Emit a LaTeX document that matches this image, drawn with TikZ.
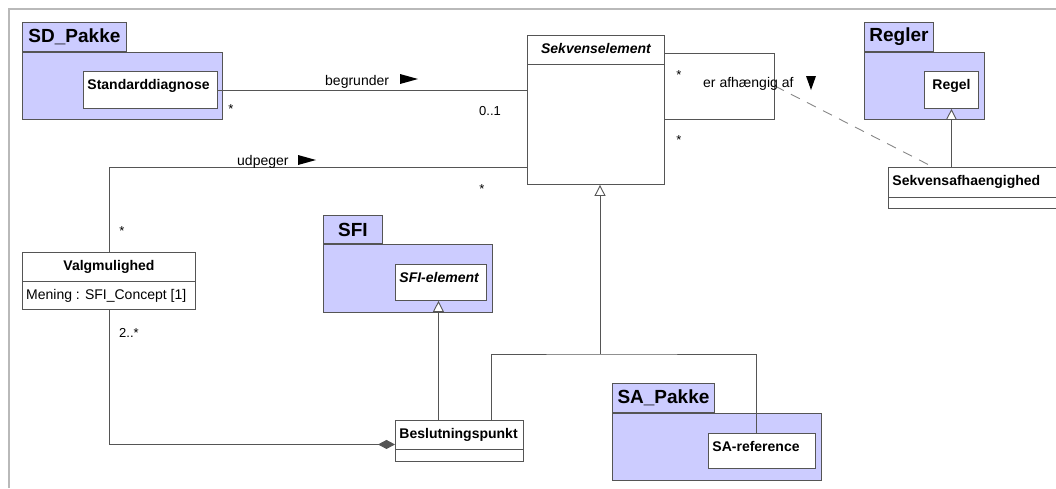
\documentclass[tikz,border=0pt]{standalone}
\usepackage{fontspec}
\setmainfont{Liberation Sans}
\usetikzlibrary{arrows.meta,calc}
\definecolor{linegray}{RGB}{85,85,85}
\definecolor{pkgblue}{RGB}{204,204,255}
\definecolor{framegray}{RGB}{185,185,185}
\definecolor{dashgray}{RGB}{135,135,135}
\tikzset{
  klasse/.style={draw=linegray, fill=white, line width=0.9pt, anchor=north west,
    inner xsep=4pt, inner ysep=0pt, text height=18pt, align=left,
    font=\fontsize{14}{16}\selectfont\bfseries},
  pakke/.style={draw=linegray, fill=pkgblue, line width=0.9pt, anchor=north west, inner sep=0pt},
  faneblad/.style={pakke, anchor=south west, font=\fontsize{19}{21}\selectfont\bfseries},
  mult/.style={anchor=base, inner sep=0pt, font=\fontsize{13}{15}\selectfont},
  rolle/.style={anchor=base west, inner sep=0pt, font=\fontsize{14}{16}\selectfont},
  assoc/.style={draw=linegray, line width=0.9pt},
  gen/.style={assoc, -{Triangle[open, length=11pt, width=11pt, fill=white]}},
  komp/.style={assoc, -{Diamond[length=17pt, width=9pt, fill=linegray]}},
}
\begin{document}
\begin{tikzpicture}[x=1pt,y=-1pt]
\useasboundingbox (0,0) rectangle (1056,488);
\draw[framegray, line width=2pt] (9,488) -- (9,9) -- (1056,9);

% pakker
\node[pakke, minimum width=200pt, minimum height=67pt] (sdbody) at (22,52) {};
\node[faneblad, minimum width=104pt, minimum height=29pt] (sdtab) at (sdbody.north west) {SD\_Pakke};
\node[klasse, text width=126pt, text depth=19pt] (std) at (83,71) {Standarddiagnose};

\node[pakke, minimum width=120pt, minimum height=67pt] (regbody) at (864,52) {};
\node[faneblad, minimum width=69pt, minimum height=29pt] (regtab) at (regbody.north west) {Regler};
\node[klasse, text width=46pt, text depth=19pt, align=center] (regel) at (924,71) {Regel};

\node[pakke, minimum width=169pt, minimum height=68pt] (sfibody) at (323,244) {};
\node[faneblad, minimum width=59pt, minimum height=28pt] (sfitab) at (sfibody.north west) {SFI};
\node[klasse, text width=83pt, text depth=18pt, font=\fontsize{14}{16}\selectfont\bfseries\itshape] (sfielem) at (395,264) {SFI-element};

\node[pakke, minimum width=209pt, minimum height=67pt] (sabody) at (612,413) {};
\node[faneblad, minimum width=102pt, minimum height=29pt] (satab) at (sabody.north west) {SA\_Pakke};
\node[klasse, text width=99pt, text depth=17pt] (saref) at (708,433) {SA-reference};

% klasser
\node[klasse, text width=129pt, text depth=131pt, align=center, font=\fontsize{14}{16}\selectfont\bfseries\itshape] (sekv) at (527,35) {Sekvenselement};
\draw[assoc] ([yshift=-29pt]sekv.north west) -- ([yshift=-29pt]sekv.north east);

\node[klasse, text width=165pt, text depth=39pt, align=center] (valg) at (22,252) {Valgmulighed};
\draw[assoc] ([yshift=-29pt]valg.north west) -- ([yshift=-29pt]valg.north east);
\node[rolle] (valgattr) at ([xshift=4pt,yshift=-47pt]valg.north west) {Mening : SFI\_Concept [1]};

\node[klasse, text width=120pt, text depth=23pt] (besl) at (395,420) {Beslutningspunkt};
\draw[assoc] ([yshift=-29pt]besl.north west) -- ([yshift=-29pt]besl.north east);

\node[klasse, text width=172pt, text depth=23pt] (sekafh) at (888,167) {Sekvensafhaengighed};
\draw[assoc] ([yshift=-30pt]sekafh.north west) -- ([yshift=-30pt]sekafh.north east);

% forbindelser
\draw[assoc] (std.east) -- (std.east -| sekv.west);
\draw[assoc] ([yshift=-18pt]sekv.north east) -- ++(110,0) coordinate (looptop)
  -- ++(0,66) coordinate (loopbot) -- (loopbot -| sekv.east);
\coordinate (loopmid) at ($(looptop)!0.5!(loopbot)$);
\draw[dashgray, line width=0.9pt, dash pattern=on 10pt off 8pt] (loopmid) -- ([xshift=45pt]sekafh.north west);
\draw[assoc] ([yshift=17pt]sekv.south west) -| (valg.north);
\draw[komp] (valg.south) |- ([yshift=-3.5pt]besl.west);
\draw[gen] ([xshift=-21pt]besl.north) -- ([xshift=-21pt]besl.north |- sfielem.south);
\coordinate (genjoin) at (600,354);
\draw[gen] (genjoin) -- (genjoin |- sekv.south);
\draw[assoc] ([xshift=32pt]besl.north) |- (genjoin) -| ([xshift=-5.5pt]saref.north);
\draw[gen] (regel.south |- sekafh.north) -- (regel.south);

% etiketter
\node[rolle] (lbegr) at (325,85) {begrunder};
\fill (400,74) -- (418,79) -- (400,84) -- cycle;
\node[rolle] (ludp) at (237,165) {udpeger};
\fill (298,155) -- (316,160) -- (298,165) -- cycle;
\node[rolle] (lafh) at (703,87) {er afhængig af};
\fill (806,76) -- (816,76) -- (811,90) -- cycle;

\node[mult] (m1) at (231,113.5) {*};
\node[mult] (m2) at (490,115) {0..1};
\node[mult] (m3) at (679,79.5) {*};
\node[mult] (m4) at (679,144.5) {*};
\node[mult] (m5) at (482,193.5) {*};
\node[mult] (m6) at (122,235.5) {*};
\node[mult, anchor=base west] (m7) at (119,337) {2..*};
\end{tikzpicture}
\end{document}
